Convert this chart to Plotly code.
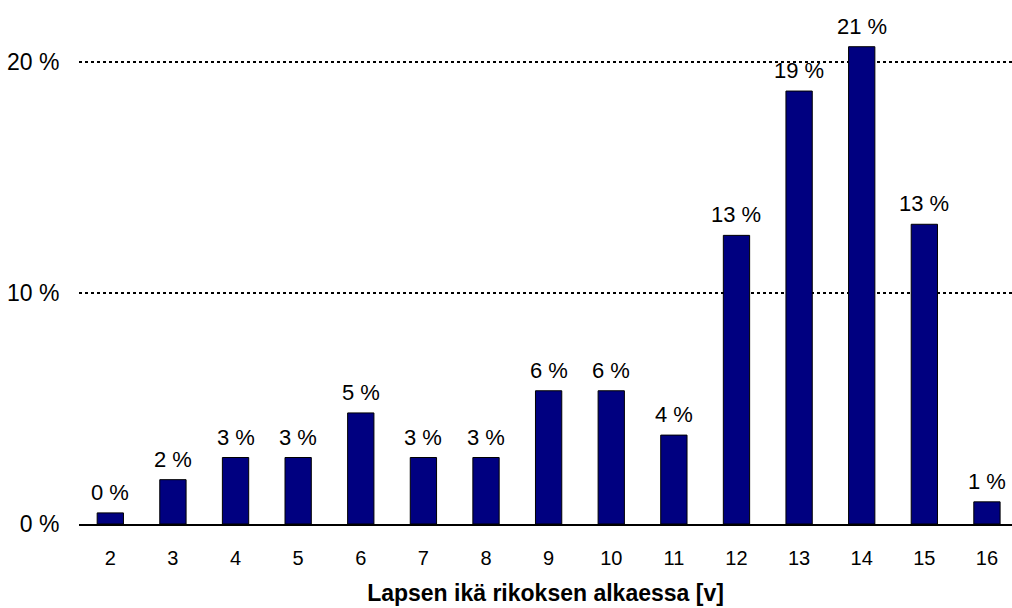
import plotly.graph_objects as go

# Lapsen ikä rikoksen alkaessa, osuus tapauksista (%)
ages = ["2", "3", "4", "5", "6", "7", "8", "9", "10", "11", "12", "13", "14", "15", "16"]
shares = [0.48, 1.92, 2.88, 2.88, 4.81, 2.88, 2.88, 5.77, 5.77, 3.85, 12.5, 18.75, 20.67, 12.98, 0.96]
labels = ["0 %", "2 %", "3 %", "3 %", "5 %", "3 %", "3 %", "6 %", "6 %", "4 %",
          "13 %", "19 %", "21 %", "13 %", "1 %"]
y_ticks = [0, 10, 20]
y_tick_text = ["0 %", "10 %", "20 %"]

FONT = "Arial, Liberation Sans, sans-serif"


def main():
    fig = go.Figure()

    fig.add_trace(go.Bar(
        x=ages,
        y=shares,
        width=0.42,
        marker=dict(color="#000080", line=dict(color="black", width=1)),
        hoverinfo="skip",
    ))

    # value labels above bars (category index as x)
    for i, (v, t) in enumerate(zip(shares, labels)):
        fig.add_annotation(
            x=i, y=v, text=t, showarrow=False,
            yanchor="bottom", yshift=6,
            font=dict(family=FONT, size=22, color="black"),
        )

    fig.update_xaxes(
        type="category",
        range=[-0.5, 14.4],
        showline=True, linecolor="black", linewidth=2,
        ticks="outside", ticklen=15, tickcolor="rgba(0,0,0,0)",
        tickfont=dict(family=FONT, size=20, color="black"),
        title=dict(text="<b>Lapsen ikä rikoksen alkaessa [v]</b>",
                   font=dict(family=FONT, size=23, color="black"), standoff=17),
    )
    fig.update_yaxes(
        range=[0, 22],
        tickvals=y_ticks, ticktext=y_tick_text,
        showgrid=True, gridcolor="black", gridwidth=2, griddash="dot",
        zeroline=False,
        ticks="outside", ticklen=14, tickcolor="rgba(0,0,0,0)",
        tickfont=dict(family=FONT, size=23, color="black"),
    )

    fig.update_layout(
        width=1012, height=608,
        margin=dict(l=79, r=0, t=16, b=84),
        plot_bgcolor="white", paper_bgcolor="white",
        showlegend=False,
    )

    fig.write_html("out.html", config={"displayModeBar": False},
                   post_script="document.body.style.margin='0';")


if __name__ == "__main__":
    main()
